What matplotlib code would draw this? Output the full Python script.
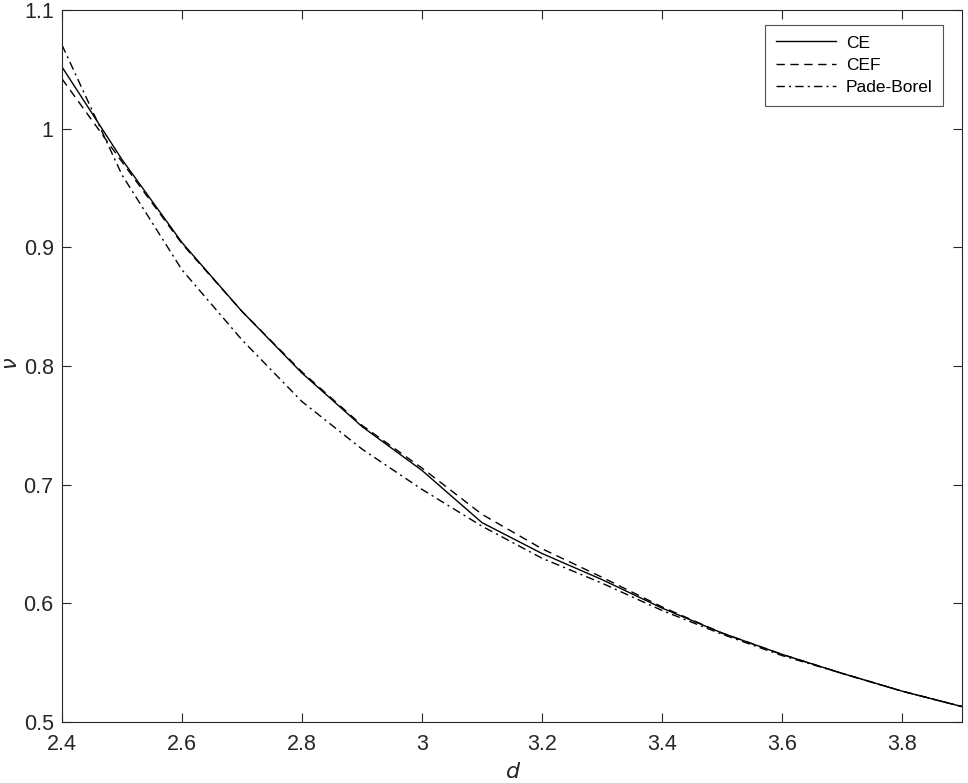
import matplotlib
matplotlib.use("Agg")
import matplotlib.pyplot as plt

d = [2.4, 2.5, 2.6, 2.7, 2.8, 2.9, 3.0, 3.1, 3.2, 3.3, 3.4, 3.5, 3.6, 3.7, 3.8, 3.9]
nu_ce = [1.052, 0.974, 0.904, 0.846, 0.794, 0.749, 0.712, 0.668, 0.642, 0.620,
         0.596, 0.575, 0.557, 0.541, 0.526, 0.513]
nu_cef = [1.042, 0.972, 0.903, 0.846, 0.795, 0.750, 0.714, 0.675, 0.646, 0.622,
          0.597, 0.575, 0.557, 0.541, 0.526, 0.513]
nu_pb = [1.0705, 0.961, 0.881, 0.822, 0.770, 0.730, 0.696, 0.665, 0.638, 0.617,
         0.594, 0.574, 0.556, 0.541, 0.526, 0.513]

xticks = [2.4, 2.6, 2.8, 3.0, 3.2, 3.4, 3.6, 3.8]
xtick_labels = ["2.4", "2.6", "2.8", "3", "3.2", "3.4", "3.6", "3.8"]
yticks = [0.5, 0.6, 0.7, 0.8, 0.9, 1.0, 1.1]
ytick_labels = ["0.5", "0.6", "0.7", "0.8", "0.9", "1", "1.1"]

plt.rcParams['font.family'] = ['Liberation Sans', 'DejaVu Sans']
ink = '#262626'

fig = plt.figure(figsize=(9.68, 7.83), dpi=100)
ax = fig.add_axes([62/968, 61/783, 900/968, 712/783])

ax.plot(d, nu_ce, '-', color='black', lw=1.0, label='CE')
ax.plot(d, nu_cef, '--', color='black', lw=1.0, dashes=(6, 4), label='CEF')
ax.plot(d, nu_pb, '-.', color='black', lw=1.0, dashes=(6, 3, 1.5, 3), label='Pade-Borel')

ax.set_xlim(2.4, 3.9)
ax.set_ylim(0.5, 1.1)
ax.set_xticks(xticks)
ax.set_xticklabels(xtick_labels)
ax.set_yticks(yticks)
ax.set_yticklabels(ytick_labels)

ax.tick_params(direction='in', length=6.5, width=0.8, top=True, right=True,
               labelsize=15.5, colors=ink)
ax.tick_params(axis='x', pad=9)
ax.tick_params(axis='y', pad=6)
for s in ax.spines.values():
    s.set_color(ink)
    s.set_linewidth(0.8)

ax.set_xlabel('$d$', fontsize=16, color=ink)
ax.set_ylabel(r'$\nu$', fontsize=15, color=ink)
ax.xaxis.set_label_coords((513 - 62) / 900, (722 - 762) / 712)
ax.yaxis.set_label_coords((21 - 62) / 900, (722 - 363) / 712)

leg = ax.legend(loc='upper right', fontsize=12.5, handlelength=3.5,
                frameon=True, fancybox=False, edgecolor=ink,
                bbox_to_anchor=((943 - 62) / 900, (722 - 25) / 712),
                borderaxespad=0.0, labelspacing=0.42, handletextpad=0.55,
                borderpad=0.6)
leg.get_frame().set_linewidth(0.8)

fig.savefig('out.png', dpi=100, facecolor='white')
